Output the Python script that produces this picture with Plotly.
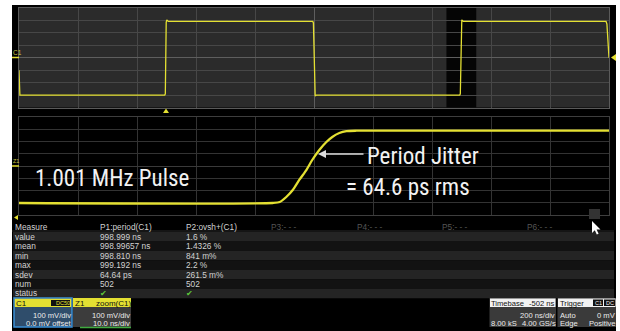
import plotly.graph_objects as go

W, H = 620, 331
def fx(x): return x / W
def fy(y): return 1 - y / H

# ---------------- data ----------------
# C1 acquisition (200 ns/div), time relative to screen centre (ns), mV
upper_t  = [-1000, -997, -506, -504, -501, -499, -494, -4, -2, 2, 4, 8, 494, 496, 499, 501, 506, 990, 993, 1000]
upper_mv = [-100, -300, -300, -290, 285, 305, 292, 292, 280, -290, -308, -300, -300, -290, 285, 305, 292, 292, 270, 0]

# Z1 zoom of rising edge (10 ns/div, 450..550 ns), mV
zoom_t  = [450, 493.0, 494.2, 495.3, 496.4, 497.5, 498.7, 499.7, 500.9, 502.1, 503.1, 504.3, 505.5, 507.2, 550]
zoom_mv = [-302, -302, -294, -253, -196, -114, -33, 49, 131, 196, 237, 269, 284, 288, 288]

measure_headers = ["Measure", "P1:period(C1)", "P2:ovsh+(C1)", "P3:- - -", "P4:- - -", "P5:- - -", "P6:- - -"]
measure_rows = ["value", "mean", "min", "max", "sdev", "num", "status"]
p1_values = ["998.999 ns", "998.99657 ns", "998.810 ns", "999.192 ns", "64.64 ps", "502", "✔"]
p2_values = ["1.6 %", "1.4326 %", "841 m%", "2.2 %", "261.5 m%", "502", "✔"]

zoom_window = [449, 550]

YEL = "#e4e032"
TXT = "#d2d2d2"
FONT = "Liberation Sans, Arial, sans-serif"
BS = 7.6  # font size in the bottom info boxes

fig = go.Figure()
fig.add_trace(go.Scatter(x=upper_t, y=upper_mv, xaxis="x", yaxis="y", mode="lines",
                         line=dict(color=YEL, width=1.3), hoverinfo="skip", showlegend=False))
fig.add_trace(go.Scatter(x=zoom_t, y=zoom_mv, xaxis="x2", yaxis="y2", mode="lines",
                         line=dict(color=YEL, width=2.3, shape="spline", smoothing=0.7),
                         hoverinfo="skip", showlegend=False))

shapes = []
def prect(x0, y0, x1, y1, fill, line=None, lw=0, layer="below"):
    shapes.append(dict(type="rect", xref="paper", yref="paper", x0=fx(x0), x1=fx(x1),
                       y0=fy(y1), y1=fy(y0), fillcolor=fill,
                       line=dict(color=line or fill, width=lw), layer=layer))

def ppath(pts, fill, layer="above"):
    d = "M" + " L".join(f"{fx(a):.5f},{fy(b):.5f}" for a, b in pts) + " Z"
    shapes.append(dict(type="path", xref="paper", yref="paper", path=d, fillcolor=fill,
                       line=dict(color=fill, width=0), layer=layer))

def pline(x0, y0, x1, y1, color, w=1, layer="above"):
    shapes.append(dict(type="line", xref="paper", yref="paper", x0=fx(x0), x1=fx(x1),
                       y0=fy(y0), y1=fy(y1), line=dict(color=color, width=w), layer=layer))

# black screen
prect(12, 5, 616, 331, "#000000")
# upper panel background + zoom-window highlight
shapes.append(dict(type="rect", xref="x domain", yref="y domain", x0=0, x1=1, y0=0, y1=1,
                   fillcolor="#2b2b2b", line=dict(width=0), layer="below"))
shapes.append(dict(type="rect", xref="x", yref="y domain", x0=zoom_window[0], x1=zoom_window[1],
                   y0=0, y1=1, fillcolor="#050505", line=dict(width=0), layer="below"))

# channel markers
pline(12, 57.5, 19, 57.5, YEL, 1.5)
pline(12, 166, 19, 166, YEL, 1.5)
ppath([(163, 113), (169, 113), (166, 108.5)], YEL)        # trigger time marker
ppath([(616, 54), (616, 61), (611, 57.5)], YEL)           # trigger level marker
ppath([(14, 217.5), (18, 215), (18, 220)], YEL)           # small arrow under zoom

# gray square + mouse cursor
prect(589, 209, 600, 219, "#333333", layer="above")
ppath([(592, 221), (592, 233), (594.8, 230.3), (596.8, 234.5), (598.6, 233.7), (596.6, 229.5), (600.5, 229.5)], "#ffffff")

# measurement table stripes
row_y0 = 232.0
row_h = 9.45
pline(12, 231, 614, 231, "#2a2a2a", 1, layer="below")
for i in range(len(measure_rows)):
    col = "#242424" if i % 2 == 0 else "#121212"
    prect(13, row_y0 + i * row_h, 614, row_y0 + (i + 1) * row_h, col)

annotations = []
PAD = 2  # annotation box padding (borderpad + borderwidth)
def txt(x, y, s, size=8, color=TXT, anchor="left", family=FONT):
    if anchor == "left":
        x -= PAD
    elif anchor == "right":
        x += PAD
    annotations.append(dict(xref="paper", yref="paper", x=fx(x), y=fy(y), text=s, showarrow=False,
                            xanchor=anchor, yanchor="middle",
                            font=dict(family=family, size=size, color=color)))

# table texts
col_x = [15, 100, 186, 271, 357, 442, 527]
for j, h in enumerate(measure_headers):
    txt(col_x[j], 227, h, size=8.3, color=TXT if j < 3 else "#555555")
for i, r in enumerate(measure_rows):
    y = row_y0 + (i + 0.5) * row_h
    txt(col_x[0], y, r, size=8.3)
    c = "#5ec83a" if r == "status" else TXT
    txt(col_x[1], y, p1_values[i], size=8.3, color=c)
    txt(col_x[2], y, p2_values[i], size=8.3, color=c)

# C1 / Z1 labels
txt(12.5, 52, "C1", size=6.5, color="#c9c640")
txt(12.5, 160.5, "Z1", size=5.5, color="#c9c640")

# big texts
BIG = "Liberation Sans Narrow, Roboto Condensed, Roboto, sans-serif"
txt(35, 178, "1.001 MHz Pulse", size=23, color="#f2f2f2", family=BIG)
txt(367, 156, "Period Jitter", size=23, color="#f2f2f2", family=BIG)
txt(346, 187, "= 64.6 ps rms", size=23, color="#f2f2f2", family=BIG)
annotations.append(dict(xref="paper", yref="paper", x=fx(318), y=fy(154), ax=47, ay=0,
                        text="", showarrow=True, arrowhead=2, arrowsize=1, arrowwidth=1.6,
                        arrowcolor="#dddddd", standoff=0))

BT = "#ececec"
# bottom boxes
# C1
prect(14, 298, 72, 327, "#2f4d6b", line="#3b90d6", lw=1.5, layer="above")
prect(14.8, 298.8, 71.2, 307, YEL, layer="above")
prect(51, 300, 70, 306, "#111111", layer="above")
txt(16, 303, "C1", size=8, color="#111111")
txt(69.5, 303, "DC50", size=5.5, color=YEL, anchor="right")
txt(70.5, 315, "100 mV/div", size=BS, color=BT, anchor="right")
txt(70.5, 323.5, "0.0 mV offset", size=BS, color=BT, anchor="right")
# Z1
prect(73, 298, 131, 327, "#3c3c3c", layer="above")
prect(73, 298, 131, 307, YEL, layer="above")
pline(80, 327.5, 131, 327.5, "#3faa3f", 1.5)
txt(75, 303, "Z1", size=8, color="#111111")
txt(130.5, 303, "zoom(C1)", size=8, color="#111111", anchor="right")
txt(130, 315, "100 mV/div", size=BS, color=BT, anchor="right")
txt(130, 323.5, "10.0 ns/div", size=BS, color=BT, anchor="right")
# Timebase
prect(489.5, 298, 556, 327, "#3a3a3a", layer="above")
prect(490, 298.5, 555.5, 307, "#f2f2f2", layer="above")
txt(491, 303, "Timebase", size=BS, color="#111111")
txt(555, 303, "-502 ns", size=BS, color="#111111", anchor="right")
txt(555, 315, "200 ns/div", size=BS, color=BT, anchor="right")
txt(490.5, 323.5, "8.00 kS", size=BS, color=BT)
txt(555.5, 323.5, "4.00 GS/s", size=BS, color=BT, anchor="right")
# Trigger
prect(557.5, 298, 616, 327, "#3a3a3a", layer="above")
prect(558, 298.5, 615.5, 307, "#f2f2f2", layer="above")
prect(593, 299.5, 603, 306, "#111111", layer="above")
prect(604, 299.5, 615, 306, "#111111", layer="above")
txt(559.5, 303, "Trigger", size=BS, color="#111111")
txt(598, 303, "C1", size=5.5, color="#f0f0f0", anchor="center")
txt(609.5, 303, "DC", size=5.5, color="#f0f0f0", anchor="center")
txt(559.5, 315, "Auto", size=BS, color=BT)
txt(615.5, 315, "0 mV", size=BS, color=BT, anchor="right")
txt(559.5, 323.5, "Edge", size=BS, color=BT)
txt(615.5, 323.5, "Positive", size=BS, color=BT, anchor="right")

axis_common = dict(showticklabels=False, ticks="", showline=True, mirror=True, fixedrange=True)
fig.update_layout(
    width=W, height=H, margin=dict(l=0, r=0, t=0, b=0),
    paper_bgcolor="#ffffff", plot_bgcolor="rgba(0,0,0,0)",
    xaxis=dict(domain=[fx(19), fx(609)], range=[-1000, 1000], dtick=200, tick0=0,
               gridcolor="#474747", linecolor="#5a5a5a", anchor="y",
               zeroline=True, zerolinecolor="#5e5e5e", zerolinewidth=1, **axis_common),
    yaxis=dict(domain=[fy(107.5), fy(8)], range=[-400, 400], dtick=100, tick0=0,
               gridcolor="#474747", linecolor="#5a5a5a", anchor="x",
               zeroline=True, zerolinecolor="#5e5e5e", zerolinewidth=1, **axis_common),
    xaxis2=dict(domain=[fx(19), fx(609)], range=[450, 550], dtick=10, tick0=450,
                gridcolor="#333333", linecolor="#3e3e3e", anchor="y2", zeroline=False, **axis_common),
    yaxis2=dict(domain=[fy(215), fy(117)], range=[-400, 400], dtick=100, tick0=0,
                gridcolor="#333333", linecolor="#3e3e3e", anchor="x2",
                zeroline=True, zerolinecolor="#3a3a3a", zerolinewidth=1, **axis_common),
    shapes=shapes, annotations=annotations, showlegend=False,
)
fig.write_html("out.html", config={"displayModeBar": False},
               post_script="document.body.style.margin='0px';")
